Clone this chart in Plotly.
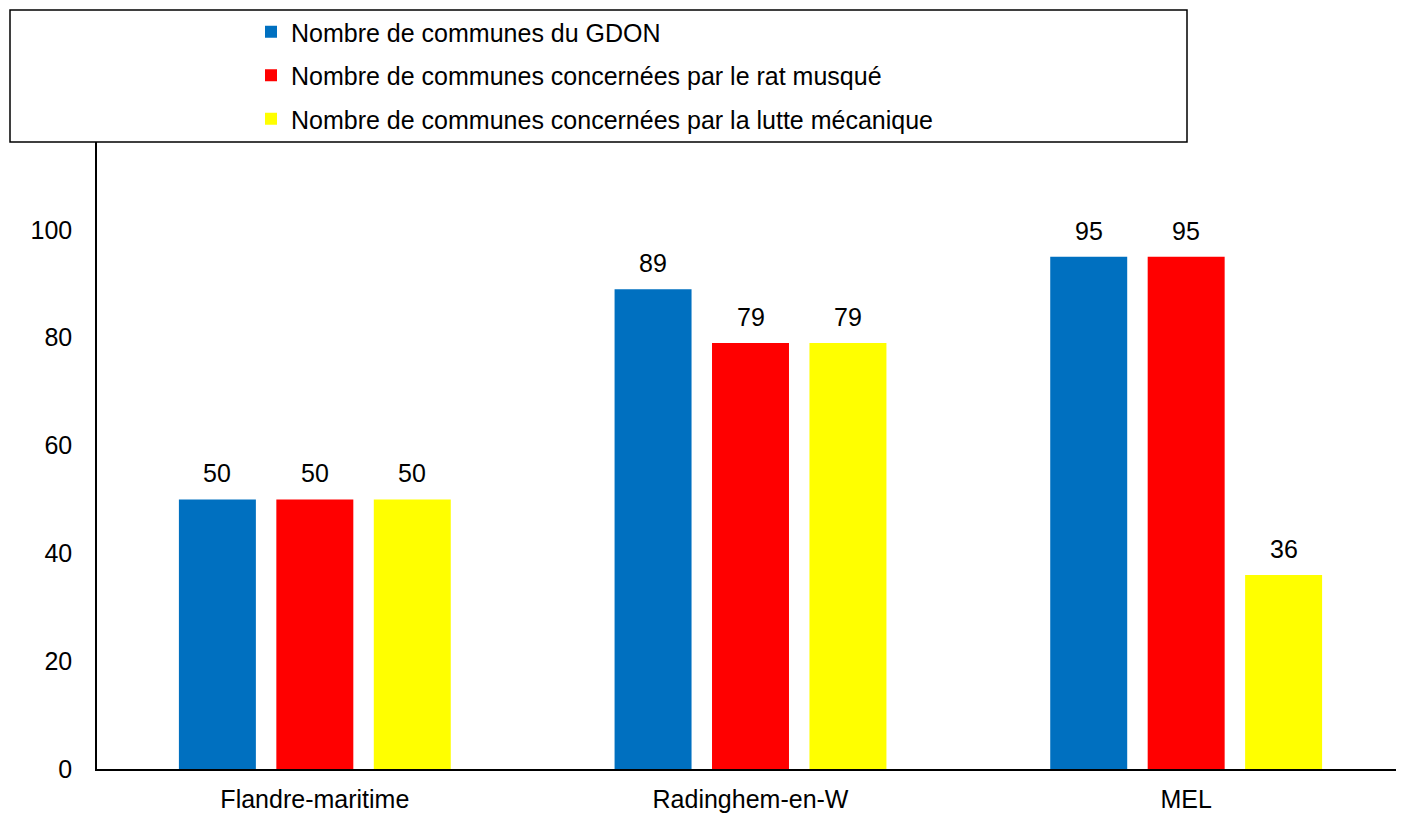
import plotly.graph_objects as go

categories = ["Flandre-maritime", "Radinghem-en-W", "MEL"]
series_names = [
    "Nombre de communes du GDON",
    "Nombre de communes concernées par le rat musqué",
    "Nombre de communes concernées par la lutte mécanique",
]
gdon = [50, 89, 95]
rat_musque = [50, 79, 95]
lutte_mecanique = [50, 79, 36]
colors = ["#0070C0", "#FF0000", "#FFFF00"]
y_ticks = [0, 20, 40, 60, 80, 100]

FONT = "Liberation Sans, Arial, sans-serif"
FS = 25

# page body has an 8px margin: work in figure coordinates (screen - 8)
W, H = 1396, 806
ml, mr, mt, mb = 89, 0, 114, 45
pw = W - ml - mr
ph = H - mt - mb
cat_px = pw / len(categories)
BARGAP = 0.329
GROUPGAP = 0.21
slot_px = cat_px * (1 - BARGAP) / 3

fig = go.Figure()
annotations = []
for i, (name, vals) in enumerate(zip(series_names, [gdon, rat_musque, lutte_mecanique])):
    fig.add_trace(go.Bar(
        x=categories, y=vals, name=name,
        marker=dict(color=colors[i], line=dict(width=0)),
        legendgroup=f"g{i}",
    ))
    for c, v in zip(categories, vals):
        annotations.append(dict(
            x=c, y=v, xref="x", yref="y", text=str(v), showarrow=False,
            xanchor="center", yanchor="bottom",
            xshift=(i - 1) * slot_px, yshift=10,
            font=dict(size=FS, family=FONT, color="#000000"),
        ))

def px_x(x):
    return (x - ml) / pw

def px_y(y):
    return (H - mb - y) / ph

fig.add_shape(type="rect", xref="paper", yref="paper",
              x0=px_x(2), x1=px_x(1179), y0=px_y(134), y1=px_y(2),
              line=dict(color="#000000", width=1.5), fillcolor="#FFFFFF",
              layer="above")

fig.update_layout(
    width=W, height=H,
    margin=dict(l=ml, r=mr, t=mt, b=mb, pad=0, autoexpand=False),
    paper_bgcolor="#FFFFFF", plot_bgcolor="#FFFFFF",
    font=dict(family=FONT, size=FS, color="#000000"),
    barmode="group", bargap=BARGAP, bargroupgap=GROUPGAP,
    showlegend=True,
    annotations=annotations,
    legend=dict(
        xref="container", yref="container",
        x=243 / W, y=1 - 1 / H, xanchor="left", yanchor="top",
        bgcolor="rgba(0,0,0,0)", borderwidth=0,
        font=dict(size=FS, family=FONT, color="#000000"),
        tracegroupgap=8, itemwidth=30,
    ),
    xaxis=dict(showline=True, linecolor="#000000", linewidth=1.5,
               showgrid=False, ticks="", ticklabelstandoff=7, tickangle=0,
               tickfont=dict(size=FS, family=FONT)),
    yaxis=dict(range=[0, 120], showline=True, linecolor="#000000", linewidth=1.5,
               showgrid=False, zeroline=False, ticks="",
               tickvals=y_ticks, ticklabelstandoff=18,
               tickfont=dict(size=FS, family=FONT)),
)

fig.write_html("out.html")
